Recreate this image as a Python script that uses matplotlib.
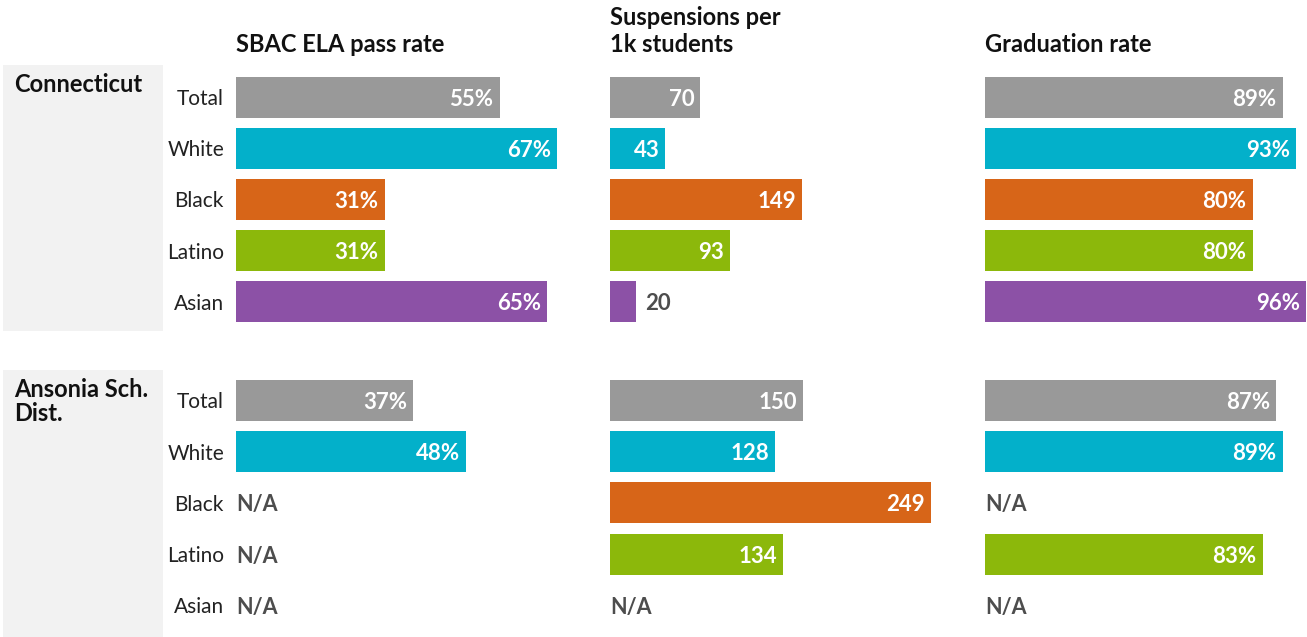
import matplotlib.pyplot as plt
from matplotlib.patches import Rectangle

plt.rcParams['font.family'] = ['Lato', 'DejaVu Sans']

# Datos de la grafica
grupos = ['Connecticut', 'Ansonia Sch.\nDist.']
razas = ['Total', 'White', 'Black', 'Latino', 'Asian']
colores = ['#999999', '#03b0ca', '#d76518', '#8cb80b', '#8c51a6']

titulos = [['SBAC ELA pass rate'], ['Suspensions per', '1k students'], ['Graduation rate']]
formatos = ['{}%', '{}', '{}%']

sbac_ct = [55, 67, 31, 31, 65]
sbac_an = [37, 48, None, None, None]
susp_ct = [70, 43, 149, 93, 20]
susp_an = [150, 128, 249, 134, None]
grad_ct = [89, 93, 80, 80, 96]
grad_an = [87, 89, None, 83, None]

columnas = [[sbac_ct, sbac_an], [susp_ct, susp_an], [grad_ct, grad_an]]

# Layout en pixeles
W, H = 1307, 637
col_x = [236, 610, 985]
col_w = 321
fila0 = 97
paso_fila = 51.2
paso_grupo = 303.5
alto_barra = 41

fig = plt.figure(figsize=(W / 100, H / 100), dpi=100)

# Cajas grises de los grupos
for g, nombre in enumerate(grupos):
    top = 65 + g * 305
    alto = 266 if g == 0 else H - top
    fig.patches.append(Rectangle((3 / W, 1 - (top + alto) / H), 160 / W, alto / H,
                                 transform=fig.transFigure, facecolor='#f2f2f2',
                                 edgecolor='none', zorder=0))
    fig.text(14 / W, 1 - (top + 8) / H, nombre, ha='left', va='top', fontsize=17,
             fontweight='bold', color='#111111', linespacing=1.05)
    for i, r in enumerate(razas):
        y = fila0 + g * paso_grupo + i * paso_fila
        fig.text(224 / W, 1 - y / H, r, ha='right', va='center_baseline', fontsize=15,
                 color='#222222')

for c, (datos, titulo, fmt) in enumerate(zip(columnas, titulos, formatos)):
    ax = fig.add_axes([col_x[c] / W, 0, col_w / W, 1])
    ax.patch.set_alpha(0)
    ax.axis('off')
    xmax = max(v for serie in datos for v in serie if v is not None)
    ax.set_xlim(0, xmax)
    ax.set_ylim(H, 0)
    escala = col_w / xmax

    for k, linea in enumerate(reversed(titulo)):
        ax.text(0, 52 - k * 27, linea, ha='left', va='baseline', fontsize=17,
                fontweight='bold', color='#111111')

    for g, serie in enumerate(datos):
        for i, v in enumerate(serie):
            y = fila0 + g * paso_grupo + i * paso_fila
            if v is None:
                ax.text(0, y, 'N/A', ha='left', va='center_baseline', fontsize=15.5,
                        fontweight='bold', color='#4d4d4d')
                continue
            ax.barh(y, v, height=alto_barra, color=colores[i], left=0)
            if v * escala > 45:
                ax.annotate(fmt.format(v), (v, y), xytext=(-6 * 0.72, 0),
                            textcoords='offset points', ha='right', va='center_baseline',
                            fontsize=16, fontweight='bold', color='white')
            else:
                ax.annotate(fmt.format(v), (v, y), xytext=(9 * 0.72, 0),
                            textcoords='offset points', ha='left', va='center_baseline',
                            fontsize=16, fontweight='bold', color='#4d4d4d')

fig.savefig('out.png', dpi=100)
